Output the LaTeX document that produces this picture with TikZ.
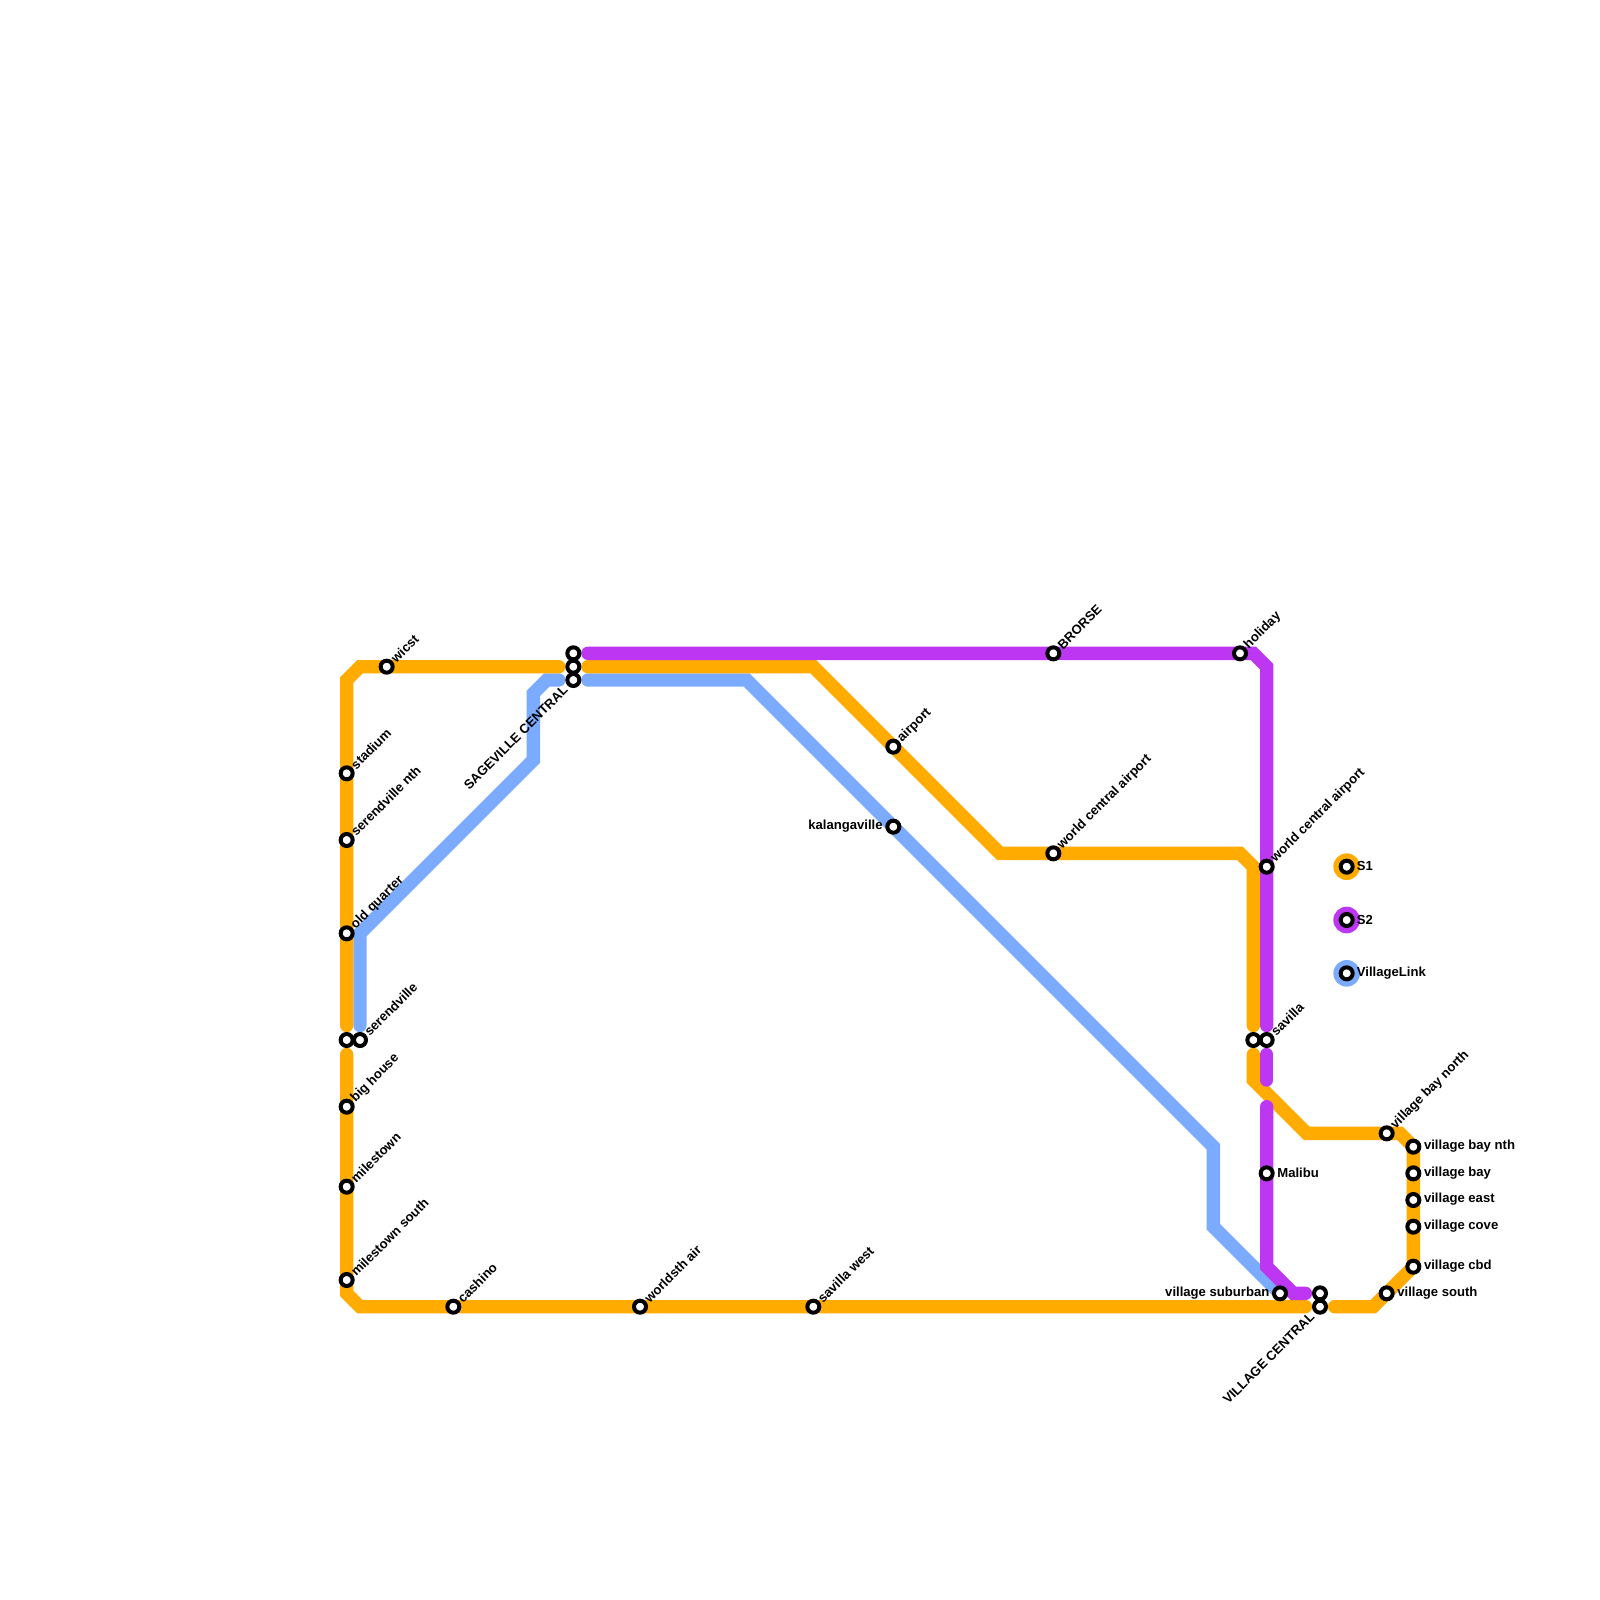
\documentclass[tikz,border=0pt]{standalone}
\usepackage{fontspec}
\setmainfont{Liberation Sans}
\usetikzlibrary{backgrounds}
\definecolor{sOne}{HTML}{FFAB00}
\definecolor{sTwo}{HTML}{BD37F2}
\definecolor{villageLink}{HTML}{7AABFF}
\tikzset{
  stn/.style={circle, draw=black, fill=white, line width=4pt, inner sep=0pt, minimum size=12pt},
  stnname/.style={font=\fontsize{13.1}{15}\selectfont\bfseries, inner sep=0pt, text=black},
  diag/.style={stnname, rotate=45, anchor=west, xshift=9pt},
  diagback/.style={stnname, rotate=45, anchor=east, xshift=-11pt},
  toright/.style={stnname, anchor=west, xshift=10.5pt, yshift=0.5pt},
  toleft/.style={stnname, anchor=east, xshift=-10.5pt, yshift=0.5pt},
  route/.style={line width=13.33pt, line cap=round, shorten <=14.5pt, shorten >=14.5pt},
  legenddisc/.style={circle, inner sep=0pt, minimum size=26.67pt}
}
\begin{document}
\begin{tikzpicture}[x=13.3333pt, y=-13.3333pt]
  \useasboundingbox (0,0) rectangle (120,120);
  % stations without a label
  \foreach \n/\x/\y in {sagevilleA/43/49, sagevilleB/43/50, serendvilleA/26/78, savillaA/94/78, villageCentralA/99/97}
    \node[stn] (\n) at (\x,\y) {};
  % stations, label leaning up to the right
  \foreach \n/\x/\y/\t in {wicst/29/50/wicst, stadium/26/58/stadium, serendvilleNth/26/63/serendville nth,
      oldQuarter/26/70/old quarter, serendvilleB/27/78/serendville, bigHouse/26/83/big house,
      milestown/26/89/milestown, milestownSouth/26/96/milestown south, cashino/34/98/cashino,
      worldsth/48/98/worldsth air, savillaWest/61/98/savilla west, airport/67/56/airport,
      brorse/79/49/BRORSE, worldCentralA/79/64/world central airport, holiday/93/49/holiday,
      worldCentralB/95/65/world central airport, savillaB/95/78/savilla, villageBayNorth/104/85/village bay north} {
    \node[stn] (\n) at (\x,\y) {};
    \node[diag] (\n-name) at (\x,\y) {\t};
  }
  % stations, label leaning down to the left
  \foreach \n/\x/\y/\t in {sagevilleC/43/51/SAGEVILLE CENTRAL, villageCentralB/99/98/VILLAGE CENTRAL} {
    \node[stn] (\n) at (\x,\y) {};
    \node[diagback] (\n-name) at (\x,\y) {\t};
  }
  % stations, level label on the right
  \foreach \n/\x/\y/\t in {malibu/95/88/Malibu, villageBayNth/106/86/village bay nth, villageBay/106/88/village bay,
      villageEast/106/90/village east, villageCove/106/92/village cove, villageCbd/106/95/village cbd,
      villageSouth/104/97/village south} {
    \node[stn] (\n) at (\x,\y) {};
    \node[toright] (\n-name) at (\x,\y) {\t};
  }
  % stations, level label on the left
  \foreach \n/\x/\y/\t in {kalangaville/67/62/kalangaville, villageSuburban/96/97/village suburban} {
    \node[stn] (\n) at (\x,\y) {};
    \node[toleft] (\n-name) at (\x,\y) {\t};
  }
  % legend
  \foreach \n/\y/\c/\t in {legendOne/65/sOne/S1, legendTwo/69/sTwo/S2, legendLink/73/villageLink/VillageLink} {
    \node[legenddisc, fill=\c] (\n-disc) at (101,\y) {};
    \node[stn] (\n) at (101,\y) {};
    \node[stnname, anchor=west, xshift=10pt, yshift=0.5pt] (\n-name) at (101,\y) {\t};
  }
  \coordinate (gapTop) at (95,81);
  \coordinate (gapBottom) at (95,83);
  \begin{scope}[on background layer]
    % VillageLink
    \draw[route, villageLink] (sagevilleC.center) -- (41,51) -- (40,52) -- (40,57) -- (27,70) -- (serendvilleB.center);
    \draw[route, villageLink, shorten >=0pt] (sagevilleC.center) -- (56,51) -- (91,86) -- (91,92) -- (villageSuburban.center);
    % S1
    \draw[route, sOne] (sagevilleB.center) -- (27,50) -- (26,51) -- (serendvilleA.center);
    \draw[route, sOne] (serendvilleA.center) -- (26,97) -- (27,98) -- (villageCentralB.center);
    \draw[route, sOne] (villageCentralB.center) -- (103,98) -- (106,95) -- (106,86) -- (105,85) -- (98,85) -- (94,81) -- (savillaA.center);
    \draw[route, sOne] (savillaA.center) -- (94,65) -- (93,64) -- (75,64) -- (61,50) -- (sagevilleB.center);
    % S2
    \draw[route, sTwo] (sagevilleA.center) -- (94,49) -- (95,50) -- (savillaB.center);
    \draw[route, sTwo, shorten >=0pt] (savillaB.center) -- (gapTop);
    \draw[route, sTwo, shorten <=0pt] (gapBottom) -- (95,95) -- (97,97) -- (villageCentralA.center);
  \end{scope}
\end{tikzpicture}
\end{document}
